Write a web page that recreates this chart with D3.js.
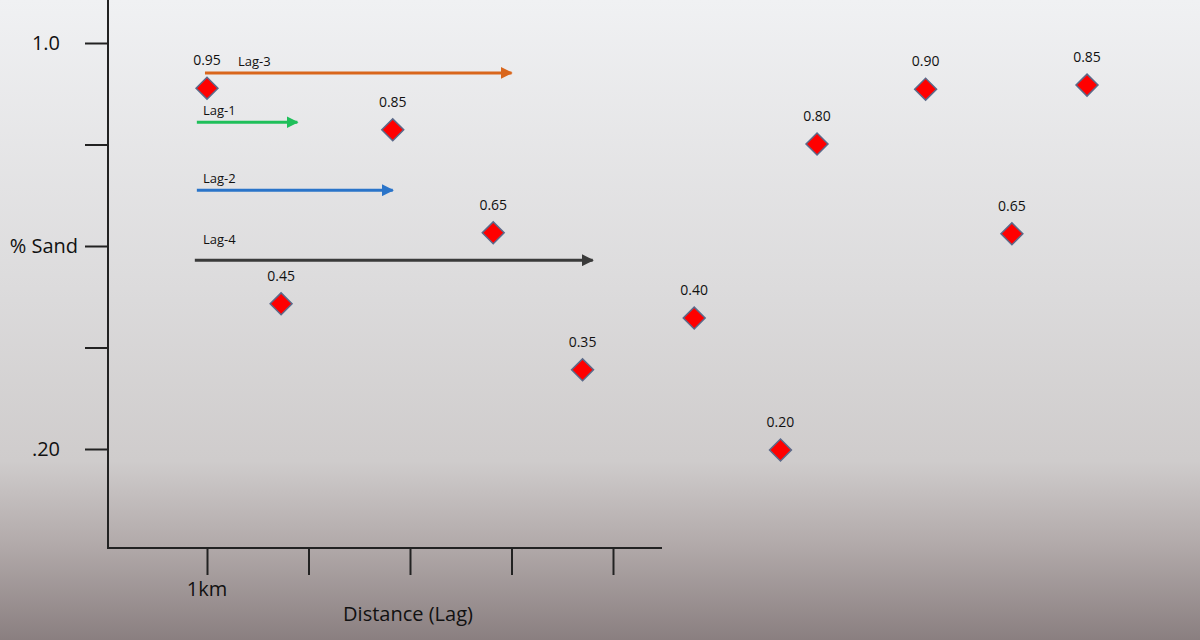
<!DOCTYPE html>
<html><head><meta charset="utf-8">
<script src="https://cdn.jsdelivr.net/npm/d3@7"></script>
<style>body{margin:0}svg{display:block}</style>
</head><body>
<svg id="c" width="1200" height="640"></svg>
<script>
const lagPos = [1.0, 1.73, 2.83, 3.82, 4.70, 5.80, 6.65, 7.01, 8.08, 8.93, 9.67];
const sandLabels = ["0.95","0.45","0.85","0.65","0.35","0.40","0.20","0.80","0.90","0.65","0.85"];
// plotted level of each point
const sandLevels = [0.911, 0.486, 0.829, 0.626, 0.356, 0.458, 0.198, 0.801, 0.909, 0.624, 0.917];
const arrowNames = ["Lag-3","Lag-1","Lag-2","Lag-4"];
const arrowStart = [0.98, 0.90, 0.90, 0.88];
const arrowEnd = [4.0, 1.89, 2.83, 4.8];
const arrowLevel = [0.941, 0.844, 0.710, 0.572];
const arrowColors = ["#d9661c","#1fbf5a","#2a74c9","#3a3a3a"];
const yTickVals = [1.0, 0.8, 0.6, 0.4, 0.2];
const yTickLabels = ["1.0", "", "% Sand", "", ".20"];
const xTickVals = [1, 2, 3, 4, 5];
const xTickLabels = ["1km", "", "", "", ""];

const svg = d3.select("#c");
const defs = svg.append("defs");
const g = defs.append("linearGradient").attr("id","bg").attr("x1",0).attr("y1",0).attr("x2",0).attr("y2",1);
[[0,"#f0f1f3"],[0.45,"#dcdbdc"],[0.72,"#cfcccc"],[0.85,"#b2aaaa"],[1,"#8a7f80"]].forEach(([o,c])=>g.append("stop").attr("offset",o).attr("stop-color",c));
svg.append("rect").attr("width",1200).attr("height",640).attr("fill","url(#bg)");

const x = d3.scaleLinear().domain([1,2]).range([207,308.5]);
const yAx = d3.scaleLinear().domain([0.2,1.0]).range([449,43]);
const font = "'Open Sans', sans-serif";

svg.append("line").attr("x1",108).attr("x2",108).attr("y1",0).attr("y2",549).attr("stroke","#222").attr("stroke-width",2);
svg.append("line").attr("x1",107).attr("x2",662).attr("y1",548).attr("y2",548).attr("stroke","#222").attr("stroke-width",2);
const ya = d3.axisLeft(yAx).tickValues(yTickVals).tickSize(23).tickFormat("");
const yg = svg.append("g").attr("transform","translate(108,0)").call(ya);
yg.select(".domain").remove();
yg.selectAll("line").attr("stroke","#222").attr("stroke-width",2);
svg.selectAll(".ylab").data(yTickVals).enter().append("text")
  .attr("x",(d,i)=>i===2?78:60).attr("y",d=>yAx(d)+7).attr("text-anchor","end")
  .attr("font-family",font).attr("font-size",20).attr("fill","#111").text((d,i)=>yTickLabels[i]);
const xa = d3.axisBottom(x).tickValues(xTickVals).tickSize(27).tickFormat("");
const xg = svg.append("g").attr("transform","translate(0,548)").call(xa);
xg.select(".domain").remove();
xg.selectAll("line").attr("stroke","#222").attr("stroke-width",2);
svg.selectAll(".xlab").data(xTickVals).enter().append("text")
  .attr("x",d=>x(d)).attr("y",596).attr("text-anchor","middle")
  .attr("font-family",font).attr("font-size",20).attr("fill","#111").text((d,i)=>xTickLabels[i]);
svg.append("text").attr("x",408).attr("y",621).attr("text-anchor","middle").attr("font-family",font)
  .attr("font-size",20).attr("fill","#111").text("Distance (Lag)");

arrowColors.forEach((c,i)=>{
  defs.append("marker").attr("id","ah"+i).attr("viewBox","0 0 10 10").attr("refX",9).attr("refY",5)
    .attr("markerWidth",4).attr("markerHeight",4).attr("orient","auto")
    .append("path").attr("d","M0,0L10,5L0,10z").attr("fill",c);
});
arrowNames.forEach((n,i)=>{
  const yy = yAx(arrowLevel[i]);
  svg.append("line").attr("x1",x(arrowStart[i])).attr("x2",x(arrowEnd[i])).attr("y1",yy).attr("y2",yy)
    .attr("stroke",arrowColors[i]).attr("stroke-width",3).attr("marker-end",`url(#ah${i})`);
  svg.append("text").attr("x",i===0?238:203).attr("y",i===3?yy-16:yy-7).attr("font-family",font)
    .attr("font-size",13).attr("fill","#111").text(n);
});

const sym = d3.symbol().type(d3.symbolSquare).size(240);
svg.selectAll(".pt").data(sandLevels).enter().append("path")
  .attr("d",sym).attr("transform",(d,i)=>`translate(${x(lagPos[i])},${yAx(d)}) rotate(45)`)
  .attr("fill","#ff0000").attr("stroke","#5b6a8a").attr("stroke-width",1.5);
svg.selectAll(".pl").data(sandLevels).enter().append("text")
  .attr("x",(d,i)=>x(lagPos[i])).attr("y",(d)=>yAx(d)-23).attr("text-anchor","middle")
  .attr("font-family",font).attr("font-size",14).attr("fill","#111").text((d,i)=>sandLabels[i]);
</script>
</body></html>
